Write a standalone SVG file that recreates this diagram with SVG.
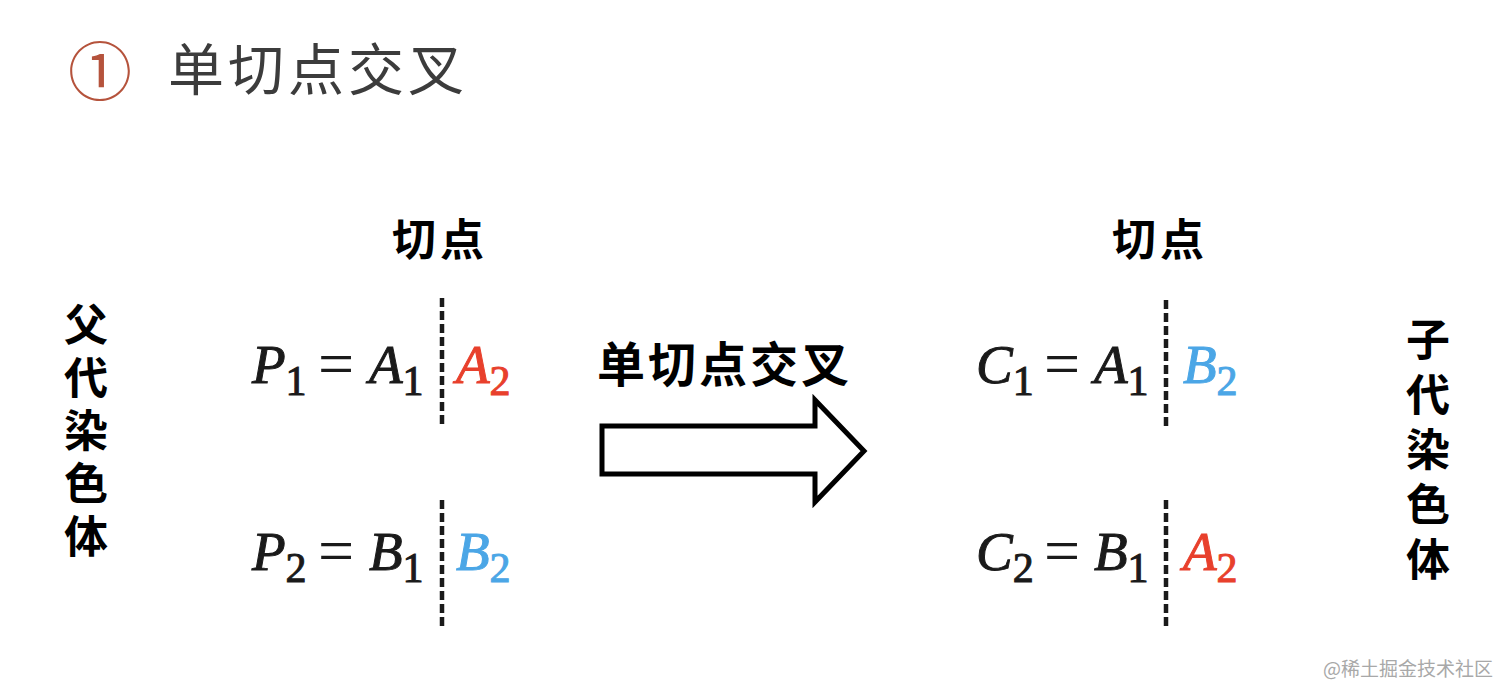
<svg xmlns="http://www.w3.org/2000/svg" width="1500" height="686" viewBox="0 0 1500 686">
<style>
.cjk{font-family:"Noto Sans CJK SC",sans-serif;}
.lbl{font-family:"Noto Sans CJK SC",sans-serif;font-weight:bold;fill:#000;}
.vert{font-family:"Noto Sans CJK SC",sans-serif;font-weight:bold;fill:#000;font-size:44px;writing-mode:vertical-rl;}
.m{font-family:"Liberation Serif",serif;font-style:italic;font-size:55px;fill:#1a1a1a;stroke:#1a1a1a;stroke-width:1;}
.s{font-family:"Liberation Serif",serif;font-style:normal;font-size:42px;}
.eq{font-family:"Liberation Serif",serif;font-size:64px;fill:#1a1a1a;}
.red{fill:#e8402c;stroke:#e8402c;}
.blue{fill:#4ba6e6;stroke:#4ba6e6;}
.cut{stroke:#1a1a1a;stroke-width:4.5;stroke-dasharray:9 4;fill:none;}
</style>
<rect width="1500" height="686" fill="#fff"/>
<g id="title">
<text x="100" y="95" text-anchor="middle" class="cjk" font-size="64" fill="#b5533c">①</text>
<text x="168" y="90" class="cjk" font-size="56" fill="#3c3c3c" letter-spacing="4">单切点交叉</text>
</g>
<g id="parent-label">
<text x="86" y="302" class="vert" style="letter-spacing:9px">父代染色体</text>
</g>
<g id="child-label">
<text x="1428" y="317" class="vert" style="letter-spacing:11px">子代染色体</text>
</g>
<g id="cut-label-left"><text x="440" y="256" text-anchor="middle" class="lbl" font-size="44" letter-spacing="4">切点</text></g>
<g id="cut-label-right"><text x="1160" y="256" text-anchor="middle" class="lbl" font-size="44" letter-spacing="4">切点</text></g>
<g id="P1">
<text x="252" y="383" class="m">P<tspan class="s" dy="12">1</tspan></text>
<text x="318" y="385" class="eq">=</text>
<text x="369" y="383" class="m">A<tspan class="s" dy="12">1</tspan></text>
<text x="456" y="383" class="m red">A<tspan class="s" dy="12">2</tspan></text>
</g>
<g id="P2">
<text x="252" y="570" class="m">P<tspan class="s" dy="12">2</tspan></text>
<text x="318" y="572" class="eq">=</text>
<text x="369" y="570" class="m">B<tspan class="s" dy="12">1</tspan></text>
<text x="456" y="570" class="m blue">B<tspan class="s" dy="12">2</tspan></text>
</g>
<g id="C1">
<text x="976" y="383" class="m">C<tspan class="s" dy="12">1</tspan></text>
<text x="1044" y="385" class="eq">=</text>
<text x="1094" y="383" class="m">A<tspan class="s" dy="12">1</tspan></text>
<text x="1183" y="383" class="m blue">B<tspan class="s" dy="12">2</tspan></text>
</g>
<g id="C2">
<text x="976" y="570" class="m">C<tspan class="s" dy="12">2</tspan></text>
<text x="1044" y="572" class="eq">=</text>
<text x="1094" y="570" class="m">B<tspan class="s" dy="12">1</tspan></text>
<text x="1183" y="570" class="m red">A<tspan class="s" dy="12">2</tspan></text>
</g>
<g id="connectors">
<line x1="442" y1="298" x2="442" y2="428" class="cut"/>
<line x1="442" y1="500" x2="442" y2="628" class="cut"/>
<line x1="1166" y1="300" x2="1166" y2="430" class="cut"/>
<line x1="1166" y1="500" x2="1166" y2="630" class="cut"/>
<path id="arrow" d="M602 426 H815 V400 L864 451 L815 502 V474 H602 Z" fill="#fff" stroke="#000" stroke-width="5" stroke-linejoin="miter"/>
<text x="597" y="382" class="lbl" font-size="48" letter-spacing="3">单切点交叉</text>
</g>
<g id="watermark"><text x="1493" y="676" text-anchor="end" class="cjk" font-size="19" fill="#a8a8a8">@稀土掘金技术社区</text></g>
</svg>
